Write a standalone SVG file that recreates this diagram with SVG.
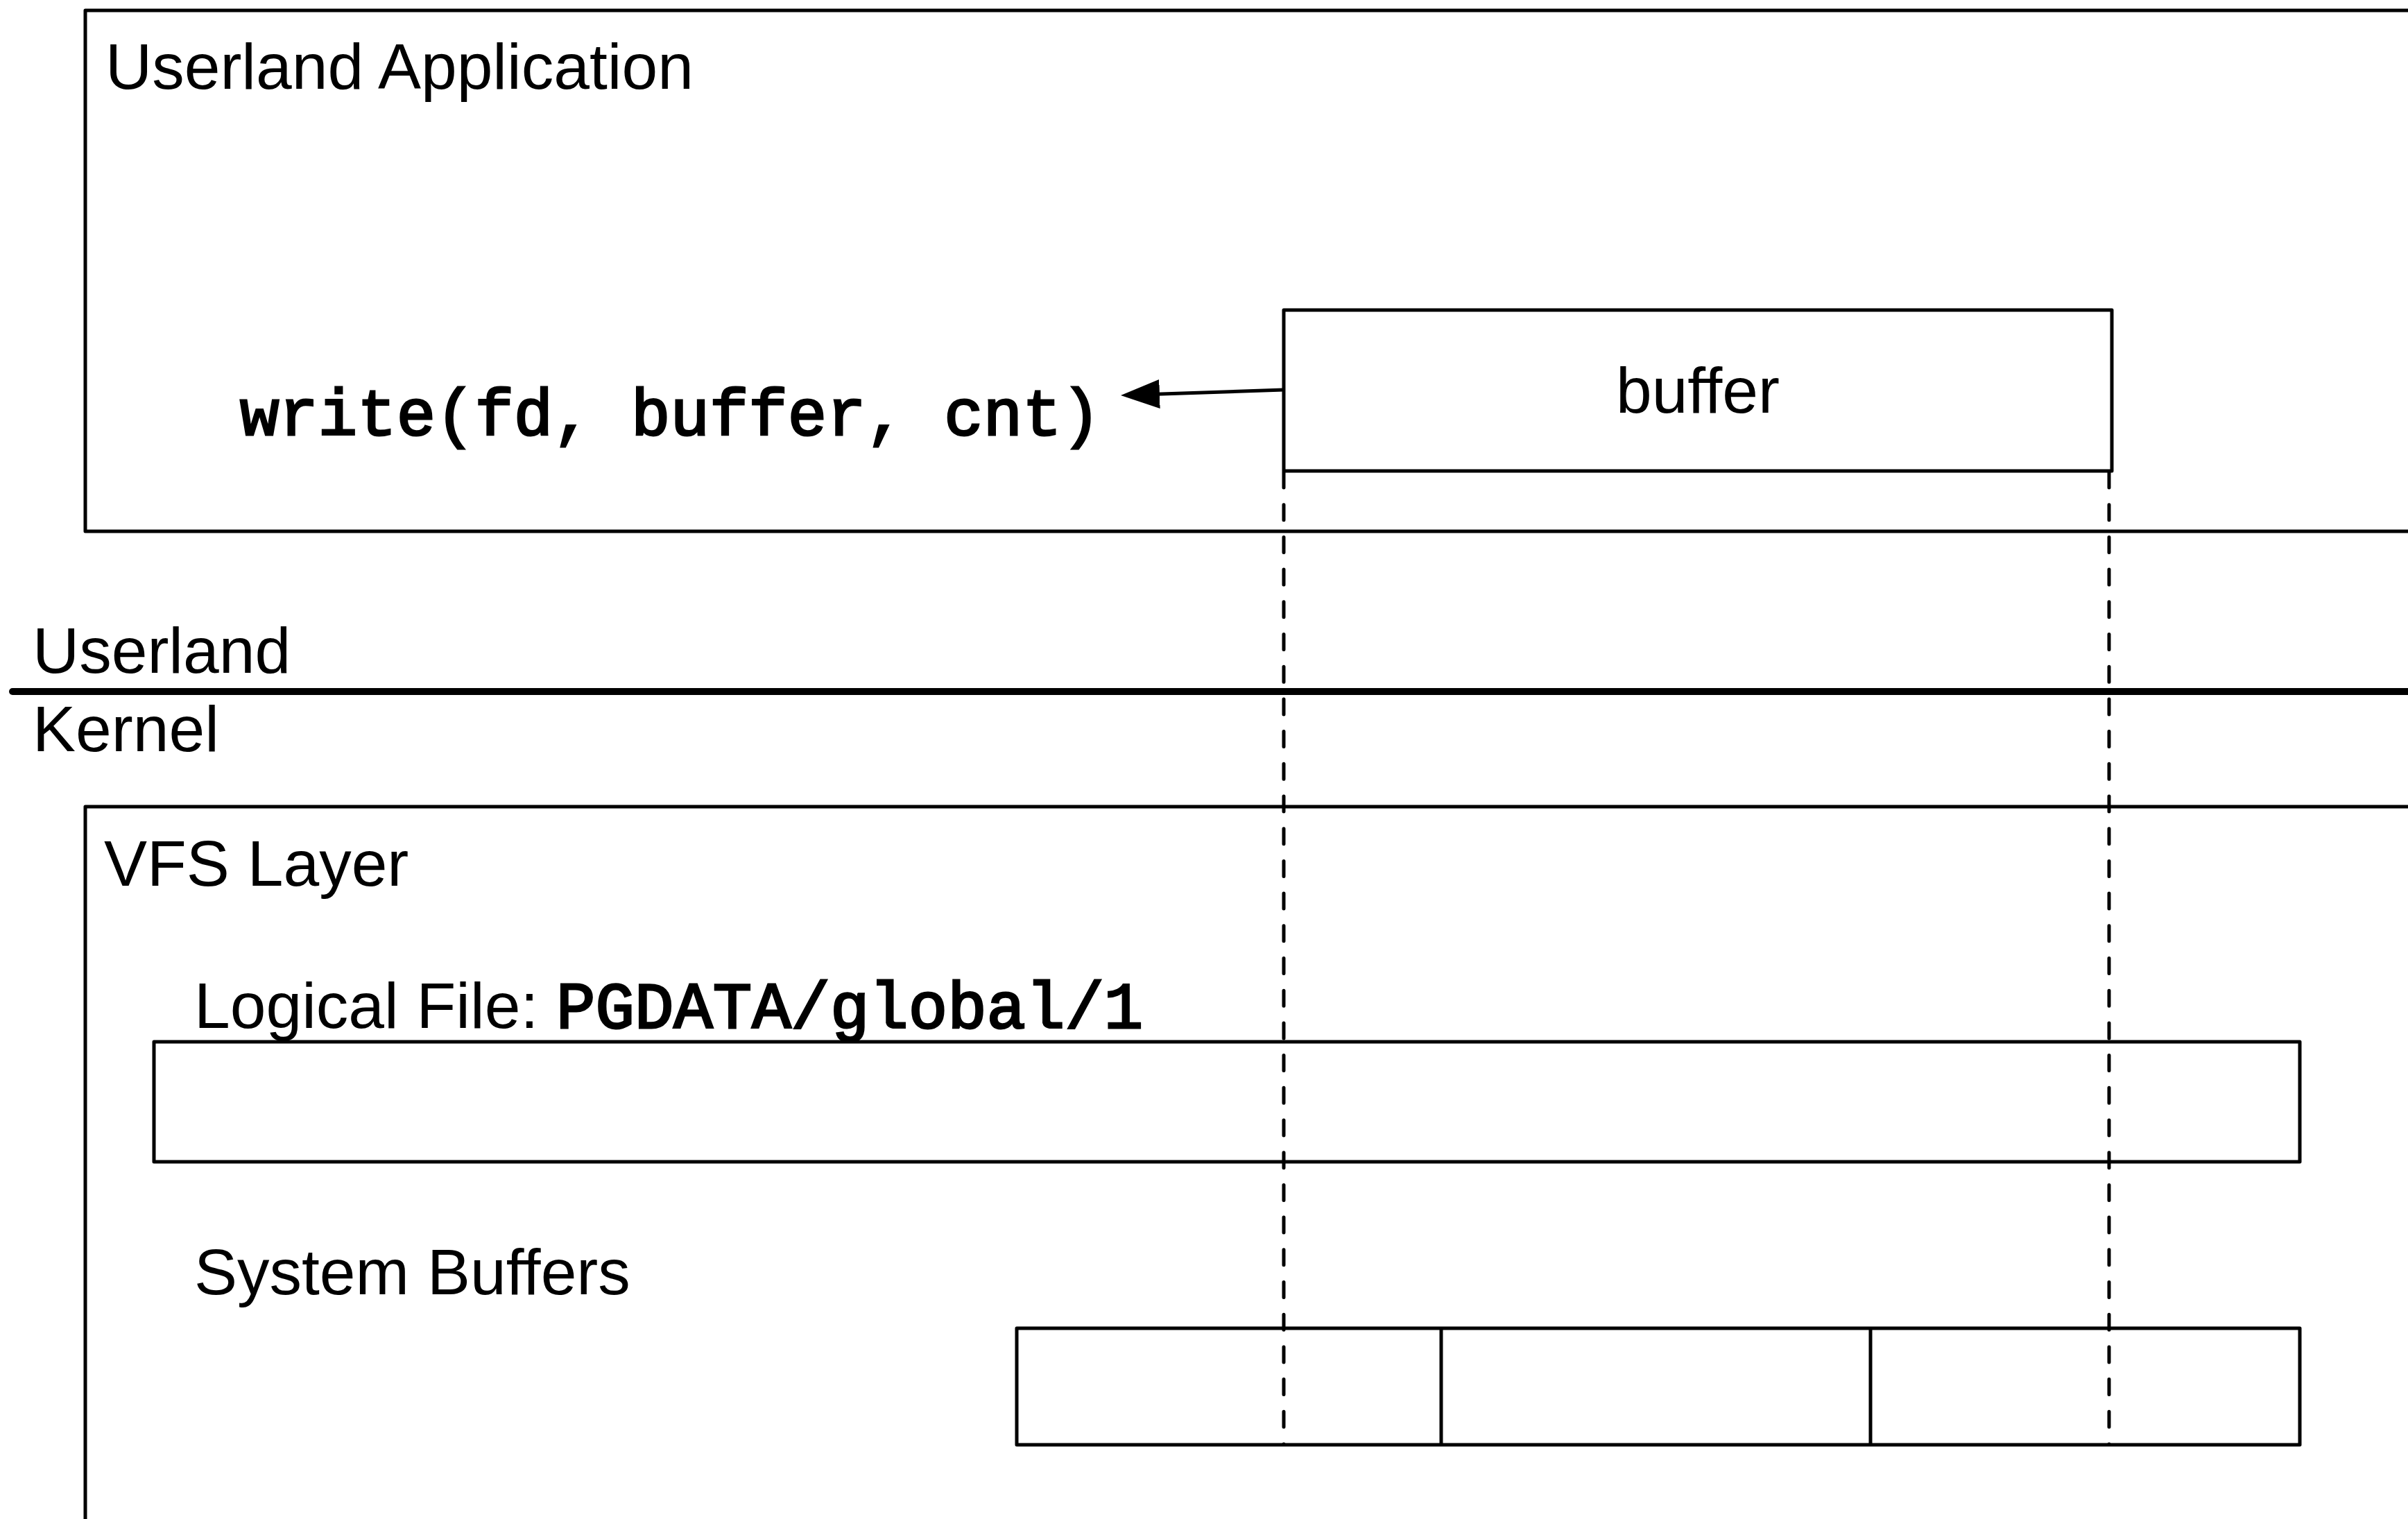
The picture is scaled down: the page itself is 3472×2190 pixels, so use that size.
<svg xmlns="http://www.w3.org/2000/svg" width="3472" height="2190" viewBox="0 0 3472 2190">
  <style>
    .box { fill: #ffffff; stroke: #000000; stroke-width: 5; stroke-linejoin: round; }
    .sans { font-family: "Liberation Sans", Arial, Helvetica, sans-serif; font-size: 93px; fill: #000000; }
    .mono { font-family: "Liberation Mono", "Courier New", monospace; font-size: 94px; font-weight: normal; fill: #000000; stroke: #000000; stroke-width: 3; }
    .dash { stroke: #000000; stroke-width: 5; stroke-dasharray: 22 24.7; stroke-linecap: round; fill: none; }
    .conn { stroke: #000000; stroke-width: 5; fill: none; }
  </style>
  <defs>
    <marker id="arrow" markerUnits="userSpaceOnUse" markerWidth="60" markerHeight="46" refX="42" refY="21" orient="auto">
      <path d="M0,0 L56,21 L0,42 Z" fill="#000000"/>
    </marker>
  </defs>
  <rect width="3472" height="2190" fill="#ffffff"/>

  <g id="userland-application">
    <rect class="box" x="123" y="15" width="3400" height="751"/>
    <text class="sans" x="152" y="128">Userland Application</text>
    <text class="mono" x="346" y="627">write(fd, buffer, cnt)</text>
  </g>

  <g id="buffer">
    <rect class="box" x="1851" y="447" width="1194" height="232"/>
    <text class="sans" x="2448" y="595" text-anchor="middle">buffer</text>
  </g>

  <g id="boundary">
    <line x1="18" y1="997" x2="3480" y2="997" stroke="#000000" stroke-width="10" stroke-linecap="round"/>
    <text class="sans" x="47" y="970">Userland</text>
    <text class="sans" x="47" y="1083">Kernel</text>
  </g>

  <g id="vfs-layer">
    <rect class="box" x="123" y="1163" width="3400" height="1100"/>
    <text class="sans" x="150" y="1277">VFS Layer</text>
  </g>

  <g id="logical-file">
    <text class="sans" x="280" y="1482">Logical File: <tspan class="mono">PGDATA/global/1</tspan></text>
    <rect class="box" x="222" y="1502" width="3094" height="173"/>
  </g>

  <g id="system-buffers">
    <text class="sans" x="280" y="1866">System Buffers</text>
    <rect class="box" x="1466" y="1915" width="1850" height="168"/>
    <line class="conn" x1="2078" y1="1915" x2="2078" y2="2083"/>
    <line class="conn" x1="2697" y1="1915" x2="2697" y2="2083"/>
  </g>

  <g id="connectors">
    <line class="conn" x1="1851" y1="562" x2="1630" y2="569.5" marker-end="url(#arrow)"/>
    <line class="dash" x1="1851" y1="681" x2="1851" y2="2082"/>
    <line class="dash" x1="3041" y1="681" x2="3041" y2="2082"/>
  </g>
</svg>
